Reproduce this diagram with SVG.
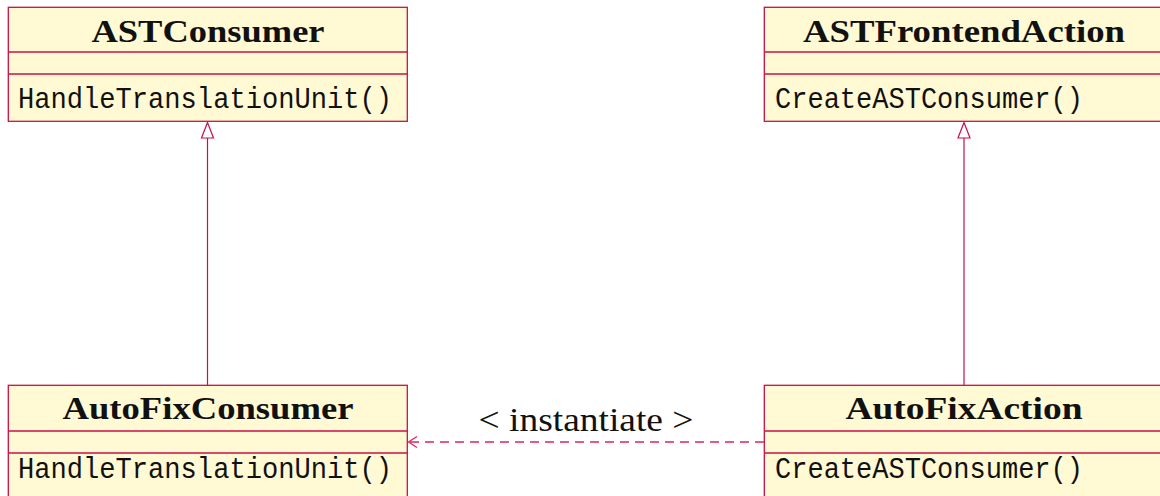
<svg xmlns="http://www.w3.org/2000/svg" width="1160" height="496" viewBox="0 0 1160 496">
<defs>
<style>
.box{fill:#fffad4;stroke:#c8104a;stroke-width:1.3}
.sep{stroke:#c8104a;stroke-width:1.3}
.title{font-family:"Liberation Serif",serif;font-weight:bold;font-size:32px;fill:#111;text-anchor:middle}
.meth{font-family:"Liberation Mono",monospace;font-size:29px;fill:#111}
.lbl{font-family:"Liberation Serif",serif;font-size:33px;fill:#111;text-anchor:middle}
.inh{stroke:#c8104a;stroke-width:1.2;fill:none}
.dep{stroke:#d8285f;stroke-width:1.3;fill:none;stroke-dasharray:9 6}
</style>
</defs>
<rect width="1160" height="496" fill="#fff"/>
<g id="ASTConsumer">
<rect class="box" x="8.3" y="7.3" width="399" height="114"/>
<line class="sep" x1="8.3" y1="52" x2="407.3" y2="52"/>
<line class="sep" x1="8.3" y1="74" x2="407.3" y2="74"/>
<text class="title" x="208" y="41.7" textLength="233" lengthAdjust="spacingAndGlyphs">ASTConsumer</text>
<text class="meth" x="18" y="108" textLength="374" lengthAdjust="spacingAndGlyphs">HandleTranslationUnit()</text>
</g>
<g id="ASTFrontendAction">
<rect class="box" x="764.3" y="7.3" width="399" height="114"/>
<line class="sep" x1="764.3" y1="52" x2="1163.3" y2="52"/>
<line class="sep" x1="764.3" y1="74" x2="1163.3" y2="74"/>
<text class="title" x="964" y="41.7" textLength="322" lengthAdjust="spacingAndGlyphs">ASTFrontendAction</text>
<text class="meth" x="775" y="108" textLength="308" lengthAdjust="spacingAndGlyphs">CreateASTConsumer()</text>
</g>
<g id="AutoFixConsumer">
<rect class="box" x="8.3" y="385.3" width="399" height="140"/>
<line class="sep" x1="8.3" y1="431" x2="407.3" y2="431"/>
<line class="sep" x1="8.3" y1="453" x2="407.3" y2="453"/>
<text class="title" x="208" y="419.3" textLength="291" lengthAdjust="spacingAndGlyphs">AutoFixConsumer</text>
<text class="meth" x="18" y="478" textLength="374" lengthAdjust="spacingAndGlyphs">HandleTranslationUnit()</text>
</g>
<g id="AutoFixAction">
<rect class="box" x="764.3" y="385.3" width="399" height="140"/>
<line class="sep" x1="764.3" y1="431" x2="1163.3" y2="431"/>
<line class="sep" x1="764.3" y1="453" x2="1163.3" y2="453"/>
<text class="title" x="964" y="419.3" textLength="237" lengthAdjust="spacingAndGlyphs">AutoFixAction</text>
<text class="meth" x="775" y="478" textLength="308" lengthAdjust="spacingAndGlyphs">CreateASTConsumer()</text>
</g>
<g id="connectors">
<line class="inh" x1="207.5" y1="385" x2="207.5" y2="138"/>
<path d="M207.5,122.5 L213.5,138 L201.5,138 Z" fill="#fff" stroke="#c8104a" stroke-width="1.2"/>
<line class="inh" x1="964" y1="385" x2="964" y2="138"/>
<path d="M964,122.5 L970,138 L958,138 Z" fill="#fff" stroke="#c8104a" stroke-width="1.2"/>
<line class="dep" x1="764" y1="442" x2="409" y2="442"/>
<path d="M417,436.5 L408.5,442 L417,447.5" fill="none" stroke="#d8285f" stroke-width="1.3"/>
<text class="lbl" x="586" y="431" textLength="215" lengthAdjust="spacingAndGlyphs">&lt; instantiate &gt;</text>
</g>
</svg>
